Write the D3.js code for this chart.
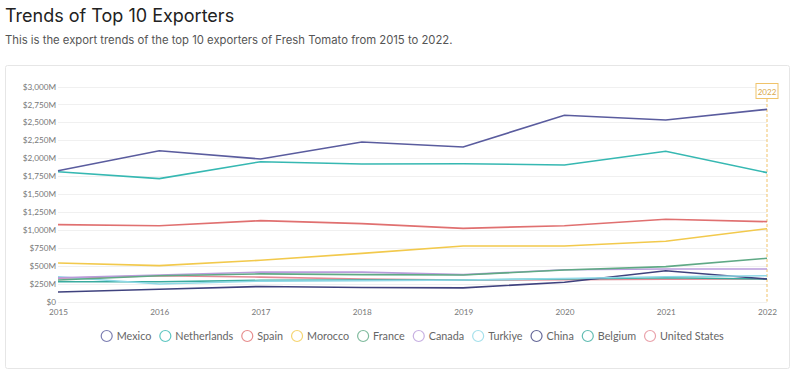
<!DOCTYPE html>
<html>
<head>
<meta charset="utf-8">
<script src="https://cdn.jsdelivr.net/npm/d3@7"></script>
<style>
  body { margin: 0; background: #fff; font-family: Inter, "Open Sans", sans-serif; }
  svg { display: block; }
  .grid line { stroke: #f0f0f0; }
  .axis text { fill: #777; font-family: Lato, "Open Sans", sans-serif; font-size: 8.2px; }
  .legend text { fill: #666; font-family: Lato, "Open Sans", sans-serif; font-size: 10.8px; }
</style>
</head>
<body>
<div id="chart"></div>
<script>
// values in $M
const years = [2015, 2016, 2017, 2018, 2019, 2020, 2021, 2022];
const yTicks = [0, 250, 500, 750, 1000, 1250, 1500, 1750, 2000, 2250, 2500, 2750, 3000];

const countries = ["Mexico", "Netherlands", "Spain", "Morocco", "France", "Canada", "Turkiye", "China", "Belgium", "United States"];
const colors = ["#5a5c9e", "#36b8b2", "#e07070", "#f2c94c", "#5fa985", "#b99cdb", "#8fd8e6", "#3f427e", "#3aab9f", "#e48a95"];

const mexico = [1825, 2104, 1988, 2225, 2156, 2598, 2532, 2681];
const netherlands = [1811, 1714, 1951, 1919, 1923, 1905, 2096, 1798];
const spain = [1072, 1058, 1128, 1086, 1021, 1058, 1147, 1114];
const morocco = [537, 500, 575, 672, 774, 774, 840, 1016];
const france = [300, 360, 385, 375, 370, 440, 486, 603];
const canada = [330, 370, 410, 410, 375, 444, 453, 453];
const turkiye = [346, 244, 285, 290, 300, 320, 346, 360];
const china = [132, 170, 210, 195, 190, 268, 430, 314];
const belgium = [276, 276, 295, 300, 300, 315, 332, 314];
const unitedStates = [324, 360, 340, 315, 300, 305, 310, 314];

const series = [mexico, netherlands, spain, morocco, france, canada, turkiye, china, belgium, unitedStates];

const width = 800, height = 390;
const margin = { top: 86.5, right: 33, bottom: 88.5, left: 58 };

const svg = d3.select("#chart").append("svg")
    .attr("width", width)
    .attr("height", height);

// title + subtitle
svg.append("text")
    .attr("x", 5).attr("y", 22)
    .style("font-family", "Inter, sans-serif")
    .style("font-size", "18px")
    .style("fill", "#222")
    .text("Trends of Top 10 Exporters");

svg.append("text")
    .attr("x", 5).attr("y", 44)
    .style("font-family", "Inter, sans-serif")
    .style("font-size", "11.3px")
    .style("fill", "#555")
    .text("This is the export trends of the top 10 exporters of Fresh Tomato from 2015 to 2022.");

// card frame
svg.append("rect")
    .attr("x", 5.5).attr("y", 65.5)
    .attr("width", 784).attr("height", 303)
    .attr("rx", 2)
    .attr("fill", "none")
    .attr("stroke", "#e6e6e6");

const x = d3.scaleLinear()
    .domain(d3.extent(years))
    .range([margin.left, width - margin.right]);

const y = d3.scaleLinear()
    .domain([0, 3000])
    .range([height - margin.bottom, margin.top]);

// gridlines
svg.append("g").attr("class", "grid")
    .selectAll("line")
    .data(yTicks)
    .join("line")
    .attr("x1", margin.left).attr("x2", width - margin.right)
    .attr("y1", d => Math.round(y(d)) + 0.5)
    .attr("y2", d => Math.round(y(d)) + 0.5);

// axes
const fmt = d => d === 0 ? "$0" : "$" + d3.format(",")(d) + "M";

const yAxis = svg.append("g").attr("class", "axis")
    .attr("transform", `translate(${margin.left - 2},0)`)
    .call(d3.axisLeft(y).tickValues(yTicks).tickFormat(fmt).tickSize(0).tickPadding(0));
yAxis.select(".domain").remove();

const xAxis = svg.append("g").attr("class", "axis")
    .attr("transform", `translate(0,${height - margin.bottom + 8})`)
    .call(d3.axisBottom(x).tickValues(years).tickFormat(d3.format("d")).tickSize(0).tickPadding(0));
xAxis.select(".domain").remove();

// 2022 marker
const lastX = x(years[years.length - 1]);
svg.append("line")
    .attr("x1", lastX).attr("x2", lastX)
    .attr("y1", 99).attr("y2", y(0))
    .attr("stroke", "#f0c36a")
    .attr("stroke-width", 1)
    .attr("stroke-dasharray", "3,2");

svg.append("rect")
    .attr("x", lastX - 11).attr("y", 83.5)
    .attr("width", 22).attr("height", 15)
    .attr("fill", "#fff")
    .attr("stroke", "#f0c36a");

svg.append("text")
    .attr("x", lastX).attr("y", 94.5)
    .attr("text-anchor", "middle")
    .style("font-family", "Lato, sans-serif")
    .style("font-size", "8px")
    .style("fill", "#d9a94a")
    .text("2022");

// lines
const line = d3.line()
    .x((d, i) => x(years[i]))
    .y(d => y(d));

// draw small series first so the big ones sit on top
svg.append("g")
    .selectAll("path")
    .data(series.map((s, i) => ({ name: countries[i], values: s, color: colors[i] })).reverse())
    .join("path")
    .attr("d", d => line(d.values))
    .attr("fill", "none")
    .attr("stroke", d => d.color)
    .attr("stroke-width", 1.6);

// legend
const legend = svg.append("g").attr("class", "legend");
const items = legend.selectAll("g")
    .data(countries)
    .join("g");

items.append("circle")
    .attr("r", 5.5)
    .attr("cx", 0).attr("cy", 0)
    .attr("fill", "none")
    .attr("stroke", (d, i) => colors[i])
    .attr("stroke-opacity", 0.8)
    .attr("stroke-width", 1.2);

items.append("text")
    .attr("x", 10).attr("y", 3.8)
    .text(d => d);

const gap = 14;
let pos = 0;
const offsets = [];
items.each(function () {
    offsets.push(pos);
    const w = d3.select(this).select("text").node().getComputedTextLength();
    pos += 10 + w + gap;
});
const total = pos - gap + 5.5;
const startX = (margin.left + width - margin.right) / 2 - total / 2 + 5.5;
items.attr("transform", (d, i) => `translate(${startX + offsets[i]},336)`);
</script>
</body>
</html>
